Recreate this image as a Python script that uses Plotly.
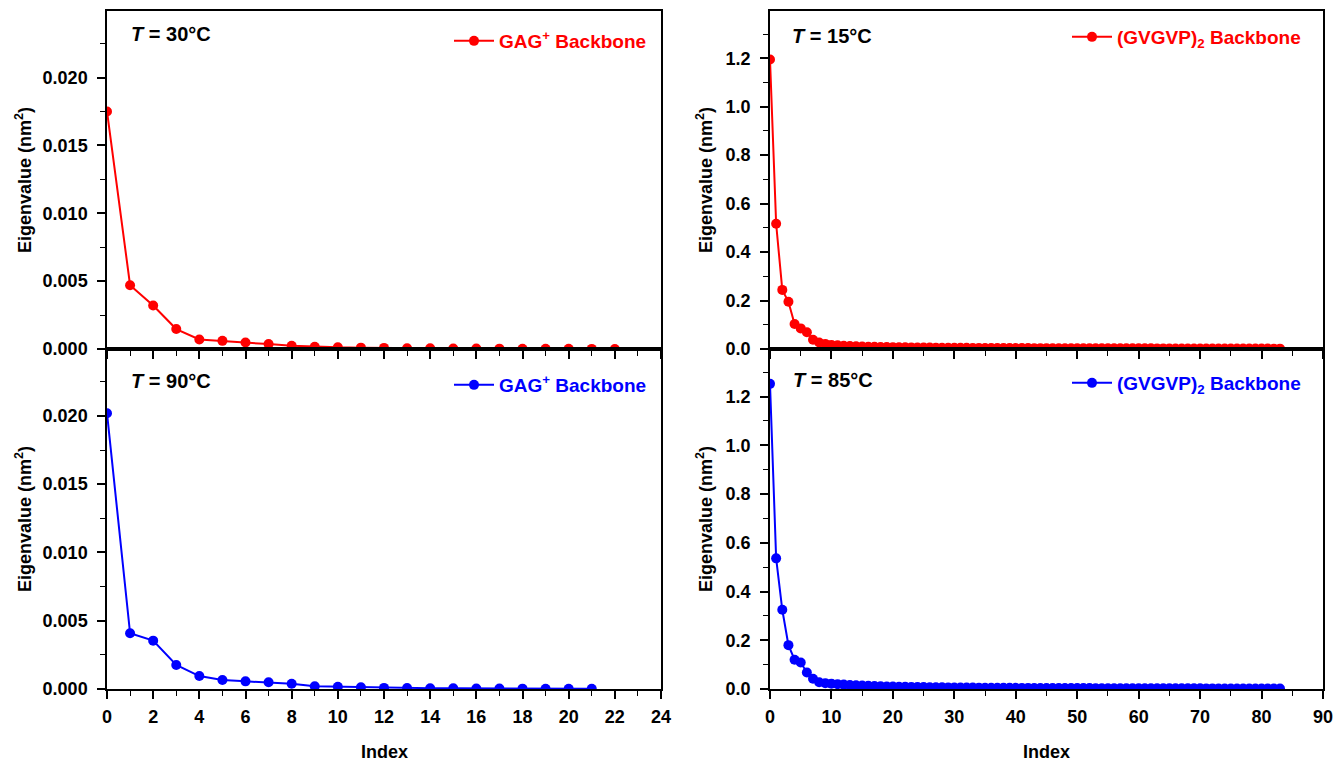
import plotly.graph_objects as go

W, H = 1333, 762

# ---------------- data ----------------
idx_gag30 = list(range(23))
eig_gag30 = [0.0175, 0.0047, 0.0032, 0.00147, 0.00070, 0.00060, 0.00048, 0.00036,
             0.00024, 0.00016, 0.00012, 0.00010, 0.00008, 0.00006, 0.00005, 0.00004,
             0.00003, 0.000025, 0.00002, 0.000015, 0.00001, 0.000008, 0.000005]

idx_gag90 = list(range(22))
eig_gag90 = [0.0202, 0.00408, 0.00354, 0.00176, 0.00095, 0.00066, 0.00056, 0.00049,
             0.00039, 0.00020, 0.00017, 0.00012, 0.00008, 0.00007, 0.00006, 0.00005,
             0.00004, 0.00003, 0.000025, 0.00002, 0.000015, 0.00001]

idx_gv15 = list(range(84))
eig_gv15 = [1.195, 0.517, 0.244, 0.195, 0.103, 0.085, 0.069, 0.038, 0.027, 0.021, 0.017,
            0.015, 0.013, 0.012, 0.011, 0.010, 0.0095, 0.009, 0.0085, 0.008, 0.0076,
            0.0072, 0.0069, 0.0066, 0.0063, 0.006, 0.0058, 0.0056, 0.0054, 0.0052, 0.005,
            0.0049, 0.0047, 0.0046, 0.0045, 0.0044, 0.0043, 0.0042, 0.0041, 0.004, 0.0039,
            0.0038, 0.0037, 0.0036, 0.0036, 0.0035, 0.0034, 0.0034, 0.0033, 0.0032, 0.0032,
            0.0031, 0.0031, 0.003, 0.003, 0.0029, 0.0029, 0.0028, 0.0028, 0.0027, 0.0027,
            0.0026, 0.0026, 0.0025, 0.0025, 0.0024, 0.0024, 0.0023, 0.0023, 0.0022, 0.0022,
            0.0021, 0.0021, 0.002, 0.002, 0.0019, 0.0019, 0.0018, 0.0018, 0.0017, 0.0017,
            0.0016, 0.0015, 0.0014]

idx_gv85 = list(range(84))
eig_gv85 = [1.252, 0.536, 0.325, 0.18, 0.12, 0.109, 0.068, 0.042, 0.028, 0.024, 0.022,
            0.02, 0.018, 0.016, 0.015, 0.014, 0.013, 0.012, 0.011, 0.0105, 0.010,
            0.0095, 0.009, 0.0086, 0.0082, 0.0078, 0.0075, 0.0072, 0.0069, 0.0066, 0.0064,
            0.0062, 0.006, 0.0058, 0.0056, 0.0054, 0.0053, 0.0051, 0.005, 0.0049, 0.0047,
            0.0046, 0.0045, 0.0044, 0.0043, 0.0042, 0.0041, 0.004, 0.0039, 0.0038, 0.0037,
            0.0036, 0.0036, 0.0035, 0.0034, 0.0034, 0.0033, 0.0032, 0.0032, 0.0031, 0.0031,
            0.003, 0.003, 0.0029, 0.0029, 0.0028, 0.0028, 0.0027, 0.0027, 0.0026, 0.0026,
            0.0025, 0.0025, 0.0024, 0.0024, 0.0023, 0.0023, 0.0022, 0.0022, 0.0021, 0.0021,
            0.002, 0.002, 0.0019]

temps = ["30", "15", "90", "85"]
legend_names = ["GAG<sup>+</sup> Backbone", "(GVGVP)<sub>2</sub> Backbone",
                "GAG<sup>+</sup> Backbone", "(GVGVP)<sub>2</sub> Backbone"]
x_title = "Index"
y_title = "Eigenvalue (nm<sup>2</sup>)"

RED = "#ff0000"
BLUE = "#0000ff"
FONT = "Liberation Sans, Arial, sans-serif"

# ---------------- layout geometry (pixels) ----------------
def px_x(p):
    return p / W

def px_y(p):
    return 1 - p / H

left_dom = [px_x(107), px_x(661)]
right_dom = [px_x(770), px_x(1323)]
top_dom = [px_y(349), px_y(11)]
bot_dom = [px_y(689), px_y(349)]

fig = go.Figure()

series = [
    (idx_gag30, eig_gag30, RED, "x", "y", "legend"),
    (idx_gv15, eig_gv15, RED, "x2", "y2", "legend2"),
    (idx_gag90, eig_gag90, BLUE, "x3", "y3", "legend3"),
    (idx_gv85, eig_gv85, BLUE, "x4", "y4", "legend4"),
]
for (xs, ys, col, xa, ya, lg), name in zip(series, legend_names):
    fig.add_trace(go.Scatter(
        x=xs, y=ys, mode="lines+markers", name="<b>" + name + "</b>",
        line=dict(color=col, width=2),
        marker=dict(color=col, size=10, symbol="circle"),
        xaxis=xa, yaxis=ya, legend=lg, showlegend=True,
    ))

tickfont = dict(family=FONT, size=18, color="black", weight="bold")

def xaxis(domain, anchor, rng, dtick, minor, labels):
    return dict(domain=domain, anchor=anchor, range=rng, dtick=dtick, tick0=0,
                automargin=False, ticklabeloverflow="allow", ticklabelstandoff=3,
                showline=True, linecolor="black", linewidth=1.5, mirror=True,
                ticks="outside", ticklen=8, tickwidth=1.5, tickcolor="black",
                showticklabels=labels, tickfont=tickfont, showgrid=False, zeroline=False,
                minor=dict(dtick=minor, tick0=0, ticks="outside", ticklen=5,
                           tickwidth=1.2, tickcolor="black", showgrid=False))

def yaxis(domain, anchor, rng, dtick, minor, fmt):
    return dict(domain=domain, anchor=anchor, range=rng, dtick=dtick, tick0=0,
                tickformat=fmt, automargin=False, ticklabeloverflow="allow",
                ticklabelstandoff=6,
                showline=True, linecolor="black", linewidth=1.5, mirror=True,
                ticks="outside", ticklen=8, tickwidth=1.5, tickcolor="black",
                tickfont=tickfont, showgrid=False, zeroline=False,
                minor=dict(dtick=minor, tick0=0, ticks="outside", ticklen=5,
                           tickwidth=1.2, tickcolor="black", showgrid=False))

legfont_red = dict(family=FONT, size=19, color=RED)
legfont_blue = dict(family=FONT, size=19, color=BLUE)

def legend(xr, yc, font):
    return dict(x=px_x(xr), y=px_y(yc), xanchor="right", yanchor="middle",
                bgcolor="rgba(0,0,0,0)", borderwidth=0, font=font,
                itemwidth=40, tracegroupgap=0)

annotations = []
for t, (xp, yp) in zip(temps, [(129, 34), (790, 36), (129, 381), (791, 380)]):
    annotations.append(dict(x=px_x(xp), y=px_y(yp), xref="paper", yref="paper",
                            xanchor="left", yanchor="middle", showarrow=False,
                            text="<b><i>T</i> = " + t + "°C</b>",
                            font=dict(family=FONT, size=20, color="black")))
for xp, yp in [(23, 180), (704, 180), (23, 519), (704, 519)]:
    annotations.append(dict(x=px_x(xp), y=px_y(yp), xref="paper", yref="paper",
                            xanchor="center", yanchor="middle", showarrow=False,
                            textangle=-90, text="<b>" + y_title + "</b>",
                            font=dict(family=FONT, size=18, color="black")))
for xp in [384, 1046]:
    annotations.append(dict(x=px_x(xp), y=px_y(752), xref="paper", yref="paper",
                            xanchor="center", yanchor="middle", showarrow=False,
                            text="<b>" + x_title + "</b>",
                            font=dict(family=FONT, size=18, color="black")))

fig.update_layout(
    width=W, height=H,
    margin=dict(l=0, r=0, t=0, b=0, autoexpand=False),
    paper_bgcolor="white", plot_bgcolor="white",
    font=dict(family=FONT, color="black"),
    xaxis=xaxis(left_dom, "y", [0, 24], 2, 1, False),
    yaxis=yaxis(top_dom, "x", [0, 0.0249], 0.005, 0.0025, ".3f"),
    xaxis2=xaxis(right_dom, "y2", [0, 90], 10, 5, False),
    yaxis2=yaxis(top_dom, "x2", [0, 1.395], 0.2, 0.1, ".1f"),
    xaxis3=xaxis(left_dom, "y3", [0, 24], 2, 1, True),
    yaxis3=yaxis(bot_dom, "x3", [0, 0.0249], 0.005, 0.0025, ".3f"),
    xaxis4=xaxis(right_dom, "y4", [0, 90], 10, 5, True),
    yaxis4=yaxis(bot_dom, "x4", [0, 1.395], 0.2, 0.1, ".1f"),
    legend=legend(652, 41, legfont_red),
    legend2=legend(1306, 37, legfont_red),
    legend3=legend(652, 385, legfont_blue),
    legend4=legend(1306, 383, legfont_blue),
    annotations=annotations,
    showlegend=True,
)

fig.write_html("out.html", config={"displayModeBar": False},
               post_script="document.body.style.margin='0';document.body.style.overflow='hidden';")
